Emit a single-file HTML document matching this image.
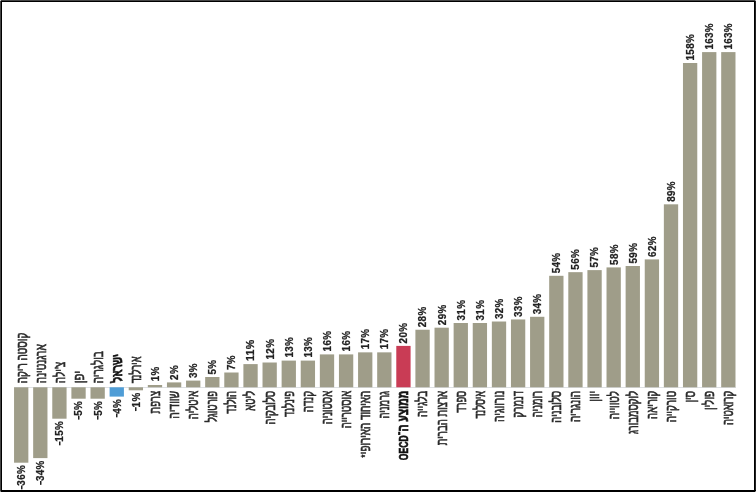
<!DOCTYPE html>
<html lang="he"><head><meta charset="utf-8"><title>chart</title>
<style>html,body{margin:0;padding:0;background:#fff}body{width:756px;height:492px;overflow:hidden;position:relative}svg{display:block;position:absolute;left:0;top:0}.h{font-family:"Liberation Sans","DejaVu Sans",sans-serif;font-size:14.5px;fill:#2a2a2a;stroke:#2a2a2a;stroke-width:0.55px;vector-effect:non-scaling-stroke;direction:rtl;unicode-bidi:embed}.hb{font-weight:bold;fill:#111;stroke:#111;stroke-width:0.6px}.la{font-size:12px}.as{font-size:10.5px;stroke-width:0.6px}.v{font-family:"Liberation Sans","DejaVu Sans",sans-serif;font-size:10.1px;font-weight:bold;fill:#222;stroke:#222;stroke-width:0.25px;letter-spacing:0.35px}.m{font-size:6.2px;stroke-width:0.8px}</style></head><body>
<svg width="756" height="492" viewBox="0 0 756 492">
<rect x="0" y="0" width="756" height="492" fill="#fff"/>
<rect x="14" y="387.00" width="722" height="1" fill="#dde0e3"/>
<rect x="14.05" y="387.30" width="14.30" height="75.40" fill="#9f9d89"/>
<text class="h" text-anchor="end" transform="translate(26.60,383.30) rotate(-90) scale(0.687,1)">קוסטה ריקה</text>
<text class="v" text-anchor="end" transform="translate(25.05,464.90) rotate(-90) scale(0.975,1)"><tspan class="m" dy="-1.3">−</tspan><tspan dy="1.3" dx="-0.5">36%</tspan></text>
<rect x="33.16" y="387.30" width="14.30" height="70.80" fill="#9f9d89"/>
<text class="h" text-anchor="end" transform="translate(45.71,383.30) rotate(-90) scale(0.700,1)">ארגנטינה</text>
<text class="v" text-anchor="end" transform="translate(44.16,460.30) rotate(-90) scale(0.975,1)"><tspan class="m" dy="-1.3">−</tspan><tspan dy="1.3" dx="-0.5">34%</tspan></text>
<rect x="52.27" y="387.30" width="14.30" height="31.40" fill="#9f9d89"/>
<text class="h" text-anchor="end" transform="translate(64.82,383.30) rotate(-90) scale(0.700,1)">צ'ילה</text>
<text class="v" text-anchor="end" transform="translate(63.27,420.90) rotate(-90) scale(0.975,1)"><tspan class="m" dy="-1.3">−</tspan><tspan dy="1.3" dx="-0.5">15%</tspan></text>
<rect x="71.39" y="387.30" width="14.30" height="11.40" fill="#9f9d89"/>
<text class="h" text-anchor="end" transform="translate(83.94,383.30) rotate(-90) scale(0.767,1)">יפן</text>
<text class="v" text-anchor="end" transform="translate(82.39,400.90) rotate(-90) scale(0.975,1)"><tspan class="m" dy="-1.3">−</tspan><tspan dy="1.3" dx="-0.5">5%</tspan></text>
<rect x="90.50" y="387.30" width="14.30" height="11.40" fill="#9f9d89"/>
<text class="h" text-anchor="end" transform="translate(103.05,383.30) rotate(-90) scale(0.694,1)">בולגריה</text>
<text class="v" text-anchor="end" transform="translate(101.50,400.90) rotate(-90) scale(0.975,1)"><tspan class="m" dy="-1.3">−</tspan><tspan dy="1.3" dx="-0.5">5%</tspan></text>
<rect x="109.61" y="387.30" width="14.30" height="9.30" fill="#4f9dd6"/>
<text class="h hb" text-anchor="end" transform="translate(122.16,381.40) rotate(-90) scale(0.667,1) skewX(14)">ישראל</text>
<text class="v" text-anchor="end" transform="translate(120.61,398.80) rotate(-90) scale(0.975,1)"><tspan class="m" dy="-1.3">−</tspan><tspan dy="1.3" dx="-0.5">4%</tspan></text>
<rect x="128.72" y="387.30" width="14.30" height="3.00" fill="#9f9d89"/>
<text class="h" text-anchor="end" transform="translate(141.27,383.30) rotate(-90) scale(0.640,1)">אירלנד</text>
<text class="v" text-anchor="end" transform="translate(139.72,392.50) rotate(-90) scale(0.975,1)"><tspan class="m" dy="-1.3">−</tspan><tspan dy="1.3" dx="-0.5">1%</tspan></text>
<rect x="147.83" y="385.00" width="14.30" height="2.30" fill="#9f9d89"/>
<text class="h" text-anchor="start" transform="translate(159.88,390.80) rotate(-90) scale(0.667,1)">צרפת</text>
<text class="v" text-anchor="start" transform="translate(158.83,381.30) rotate(-90) scale(0.975,1)">1%</text>
<rect x="166.95" y="382.40" width="14.30" height="4.90" fill="#9f9d89"/>
<text class="h" text-anchor="start" transform="translate(179.00,390.80) rotate(-90) scale(0.720,1)">שוודיה</text>
<text class="v" text-anchor="start" transform="translate(177.95,379.90) rotate(-90) scale(0.975,1)">2%</text>
<rect x="186.06" y="380.60" width="14.30" height="6.70" fill="#9f9d89"/>
<text class="h" text-anchor="start" transform="translate(198.11,390.80) rotate(-90) scale(0.667,1)">איטליה</text>
<text class="v" text-anchor="start" transform="translate(197.06,378.10) rotate(-90) scale(0.975,1)">3%</text>
<rect x="205.17" y="377.00" width="14.30" height="10.30" fill="#9f9d89"/>
<text class="h" text-anchor="start" transform="translate(217.22,390.80) rotate(-90) scale(0.667,1)">פורטוגל</text>
<text class="v" text-anchor="start" transform="translate(216.17,374.50) rotate(-90) scale(0.975,1)">5%</text>
<rect x="224.28" y="372.50" width="14.30" height="14.80" fill="#9f9d89"/>
<text class="h" text-anchor="start" transform="translate(236.33,390.80) rotate(-90) scale(0.667,1)">הולנד</text>
<text class="v" text-anchor="start" transform="translate(235.28,370.00) rotate(-90) scale(0.975,1)">7%</text>
<rect x="243.39" y="364.10" width="14.30" height="23.20" fill="#9f9d89"/>
<text class="h" text-anchor="start" transform="translate(255.44,390.80) rotate(-90) scale(0.667,1)">ליטא</text>
<text class="v" text-anchor="start" transform="translate(254.39,361.10) rotate(-90) scale(1.053,1)">11%</text>
<rect x="262.51" y="362.50" width="14.30" height="24.80" fill="#9f9d89"/>
<text class="h" text-anchor="start" transform="translate(274.56,390.80) rotate(-90) scale(0.667,1)">סלובקיה</text>
<text class="v" text-anchor="start" transform="translate(273.51,359.50) rotate(-90) scale(0.975,1)">12%</text>
<rect x="281.62" y="360.60" width="14.30" height="26.70" fill="#9f9d89"/>
<text class="h" text-anchor="start" transform="translate(293.67,390.80) rotate(-90) scale(0.667,1)">פינלנד</text>
<text class="v" text-anchor="start" transform="translate(292.62,357.60) rotate(-90) scale(0.975,1)">13%</text>
<rect x="300.73" y="360.60" width="14.30" height="26.70" fill="#9f9d89"/>
<text class="h" text-anchor="start" transform="translate(312.78,390.80) rotate(-90) scale(0.694,1)">קנדה</text>
<text class="v" text-anchor="start" transform="translate(311.73,357.60) rotate(-90) scale(0.975,1)">13%</text>
<rect x="319.84" y="354.40" width="14.30" height="32.90" fill="#9f9d89"/>
<text class="h" text-anchor="start" transform="translate(331.89,390.80) rotate(-90) scale(0.667,1)">אסטוניה</text>
<text class="v" text-anchor="start" transform="translate(330.84,351.40) rotate(-90) scale(0.975,1)">16%</text>
<rect x="338.95" y="354.40" width="14.30" height="32.90" fill="#9f9d89"/>
<text class="h" text-anchor="start" transform="translate(351.00,390.80) rotate(-90) scale(0.667,1)">אוסטרייה</text>
<text class="v" text-anchor="start" transform="translate(349.95,351.40) rotate(-90) scale(0.975,1)">16%</text>
<rect x="358.07" y="352.35" width="14.30" height="34.95" fill="#9f9d89"/>
<text class="h" text-anchor="start" transform="translate(370.12,390.80) rotate(-90) scale(0.680,1)">האיחוד האירופי<tspan class="as" dx="-0.7" dy="-1.2">*</tspan></text>
<text class="v" text-anchor="start" transform="translate(369.07,349.35) rotate(-90) scale(0.975,1)">17%</text>
<rect x="377.18" y="352.35" width="14.30" height="34.95" fill="#9f9d89"/>
<text class="h" text-anchor="start" transform="translate(389.23,390.80) rotate(-90) scale(0.667,1)">גרמניה</text>
<text class="v" text-anchor="start" transform="translate(388.18,349.35) rotate(-90) scale(0.975,1)">17%</text>
<rect x="396.29" y="345.90" width="14.30" height="41.40" fill="#c93c55"/>
<text class="h hb" text-anchor="start" transform="translate(408.34,390.80) rotate(-90) scale(0.714,1)">ממוצע ה־<tspan class="la">OECD</tspan></text>
<text class="v" text-anchor="start" transform="translate(407.29,343.40) rotate(-90) scale(0.975,1)">20%</text>
<rect x="415.40" y="329.73" width="14.30" height="57.57" fill="#9f9d89"/>
<text class="h" text-anchor="start" transform="translate(427.45,390.80) rotate(-90) scale(0.687,1)">בלגייה</text>
<text class="v" text-anchor="start" transform="translate(426.40,327.23) rotate(-90) scale(0.975,1)">28%</text>
<rect x="434.51" y="327.68" width="14.30" height="59.62" fill="#9f9d89"/>
<text class="h" text-anchor="start" transform="translate(446.56,390.80) rotate(-90) scale(0.667,1)">ארצות הברית</text>
<text class="v" text-anchor="start" transform="translate(445.51,325.18) rotate(-90) scale(0.975,1)">29%</text>
<rect x="453.63" y="323.00" width="14.30" height="64.30" fill="#9f9d89"/>
<text class="h" text-anchor="start" transform="translate(465.68,390.80) rotate(-90) scale(0.647,1)">ספרד</text>
<text class="v" text-anchor="start" transform="translate(464.63,320.50) rotate(-90) scale(0.975,1)">31%</text>
<rect x="472.74" y="323.00" width="14.30" height="64.30" fill="#9f9d89"/>
<text class="h" text-anchor="start" transform="translate(484.79,390.80) rotate(-90) scale(0.640,1)">איסלנד</text>
<text class="v" text-anchor="start" transform="translate(483.74,320.50) rotate(-90) scale(0.975,1)">31%</text>
<rect x="491.85" y="321.51" width="14.30" height="65.79" fill="#9f9d89"/>
<text class="h" text-anchor="start" transform="translate(503.90,390.80) rotate(-90) scale(0.720,1)">נורווגיה</text>
<text class="v" text-anchor="start" transform="translate(502.85,319.01) rotate(-90) scale(0.975,1)">32%</text>
<rect x="510.96" y="319.45" width="14.30" height="67.85" fill="#9f9d89"/>
<text class="h" text-anchor="start" transform="translate(523.01,390.80) rotate(-90) scale(0.667,1)">דנמרק</text>
<text class="v" text-anchor="start" transform="translate(521.96,316.95) rotate(-90) scale(0.975,1)">33%</text>
<rect x="530.07" y="316.80" width="14.30" height="70.50" fill="#9f9d89"/>
<text class="h" text-anchor="start" transform="translate(542.12,390.80) rotate(-90) scale(0.667,1)">רומניה</text>
<text class="v" text-anchor="start" transform="translate(541.07,314.30) rotate(-90) scale(0.975,1)">34%</text>
<rect x="549.19" y="275.80" width="14.30" height="111.50" fill="#9f9d89"/>
<text class="h" text-anchor="start" transform="translate(561.24,390.80) rotate(-90) scale(0.667,1)">סלובניה</text>
<text class="v" text-anchor="start" transform="translate(560.19,273.30) rotate(-90) scale(0.975,1)">54%</text>
<rect x="568.30" y="272.16" width="14.30" height="115.14" fill="#9f9d89"/>
<text class="h" text-anchor="start" transform="translate(580.35,390.80) rotate(-90) scale(0.694,1)">הונגריה</text>
<text class="v" text-anchor="start" transform="translate(579.30,269.66) rotate(-90) scale(0.975,1)">56%</text>
<rect x="587.41" y="270.11" width="14.30" height="117.19" fill="#9f9d89"/>
<text class="h" text-anchor="start" transform="translate(599.46,390.80) rotate(-90) scale(0.734,1)">יוון</text>
<text class="v" text-anchor="start" transform="translate(598.41,267.61) rotate(-90) scale(0.975,1)">57%</text>
<rect x="606.52" y="267.40" width="14.30" height="119.90" fill="#9f9d89"/>
<text class="h" text-anchor="start" transform="translate(618.57,390.80) rotate(-90) scale(0.694,1)">לטווייה</text>
<text class="v" text-anchor="start" transform="translate(617.52,264.90) rotate(-90) scale(0.975,1)">58%</text>
<rect x="625.63" y="266.00" width="14.30" height="121.30" fill="#9f9d89"/>
<text class="h" text-anchor="start" transform="translate(637.68,390.80) rotate(-90) scale(0.667,1)">לוקסמבורג</text>
<text class="v" text-anchor="start" transform="translate(636.63,263.50) rotate(-90) scale(0.975,1)">59%</text>
<rect x="644.75" y="259.40" width="14.30" height="127.90" fill="#9f9d89"/>
<text class="h" text-anchor="start" transform="translate(656.80,390.80) rotate(-90) scale(0.667,1)">קוריאה</text>
<text class="v" text-anchor="start" transform="translate(655.75,256.90) rotate(-90) scale(0.975,1)">62%</text>
<rect x="663.86" y="204.32" width="14.30" height="182.98" fill="#9f9d89"/>
<text class="h" text-anchor="start" transform="translate(675.91,390.80) rotate(-90) scale(0.687,1)">טורקייה</text>
<text class="v" text-anchor="start" transform="translate(674.86,201.82) rotate(-90) scale(0.975,1)">89%</text>
<rect x="682.97" y="63.00" width="14.30" height="324.30" fill="#9f9d89"/>
<text class="h" text-anchor="start" transform="translate(695.02,390.80) rotate(-90) scale(0.694,1)">סין</text>
<text class="v" text-anchor="start" transform="translate(693.97,60.50) rotate(-90) scale(0.975,1)">158%</text>
<rect x="702.08" y="52.10" width="14.30" height="335.20" fill="#9f9d89"/>
<text class="h" text-anchor="start" transform="translate(714.13,390.80) rotate(-90) scale(0.694,1)">פולין</text>
<text class="v" text-anchor="start" transform="translate(713.08,49.60) rotate(-90) scale(0.975,1)">163%</text>
<rect x="721.19" y="52.10" width="14.30" height="335.20" fill="#9f9d89"/>
<text class="h" text-anchor="start" transform="translate(733.24,390.80) rotate(-90) scale(0.667,1)">קרואטיה</text>
<text class="v" text-anchor="start" transform="translate(732.19,49.60) rotate(-90) scale(0.975,1)">163%</text>
<g shape-rendering="crispEdges"><rect x="0" y="0" width="756" height="1" fill="#454545"/><rect x="0" y="0" width="1" height="492" fill="#454545"/><rect x="1" y="1" width="755" height="1" fill="#000"/><rect x="1" y="1" width="1" height="491" fill="#000"/><rect x="754" y="1" width="1" height="491" fill="#000"/><rect x="755" y="0" width="1" height="492" fill="#222"/><rect x="0" y="490" width="756" height="2" fill="#000"/><rect x="0" y="490" width="1" height="1" fill="#454545"/><rect x="0" y="0" width="1" height="1" fill="#ccc"/><rect x="755" y="0" width="1" height="1" fill="#aaa"/><rect x="0" y="491" width="1" height="1" fill="#888"/><rect x="755" y="491" width="1" height="1" fill="#888"/></g>
</svg>
</body></html>
